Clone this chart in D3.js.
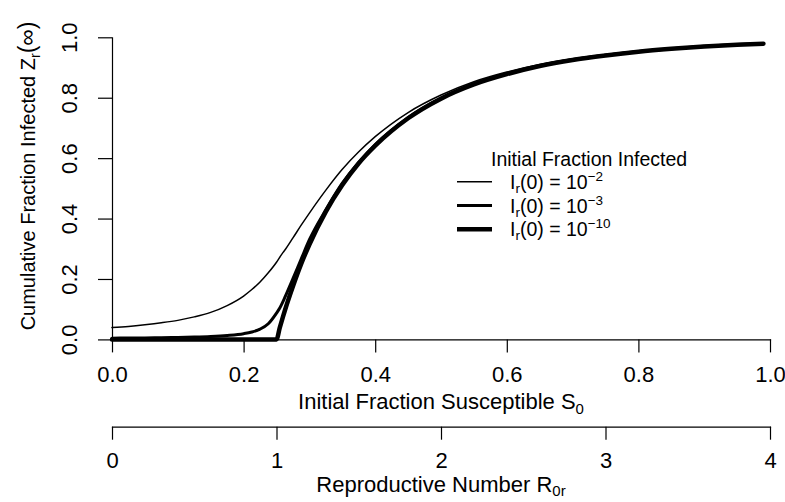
<!DOCTYPE html>
<html>
<head>
<meta charset="utf-8">
<script src="https://cdn.jsdelivr.net/npm/d3@7/dist/d3.min.js"></script>
<style>
  body { margin: 0; background: #fff; }
  svg { display: block; font-family: "Liberation Sans", Arial, Helvetica, sans-serif; }
  .axis path, .axis line { stroke: #000; stroke-width: 1.2; }
  .axis text { fill: #000; font-size: 22px; font-family: "Liberation Sans", Arial, sans-serif; }
</style>
</head>
<body>
<svg id="grafico" width="785" height="502"></svg>
<script>
// fracao inicial suscetivel S0
const suscetivel = [0, 0.025, 0.05, 0.075, 0.1, 0.125, 0.15, 0.175, 0.2, 0.2125, 0.225, 0.2375,
  0.25, 0.255, 0.26, 0.2625, 0.275, 0.2875, 0.3, 0.325, 0.35, 0.375, 0.4, 0.45,
  0.5, 0.55, 0.6, 0.65, 0.7, 0.75, 0.8, 0.85, 0.9, 0.95, 0.99];

// fracao acumulada infectada Z_r(inf), uma lista por I_r(0)
const infectado1e2 = [0.039, 0.043, 0.0485, 0.055, 0.063, 0.0745, 0.0895, 0.112, 0.1435, 0.165, 0.19, 0.2205,
  0.2555, 0.272, 0.288, 0.295, 0.336, 0.378, 0.418, 0.494, 0.563, 0.621, 0.671, 0.751,
  0.809, 0.853, 0.885, 0.91, 0.929, 0.943, 0.955, 0.964, 0.971, 0.9765, 0.9805];
const infectado1e3 = [0.004, 0.0045, 0.005, 0.0057, 0.0067, 0.008, 0.01, 0.0133, 0.019, 0.0245, 0.034, 0.0518,
  0.087, 0.104, 0.126, 0.138, 0.201, 0.266, 0.33, 0.429, 0.517, 0.586, 0.645, 0.734,
  0.7985, 0.845, 0.879, 0.906, 0.926, 0.941, 0.953, 0.962, 0.97, 0.976, 0.9795];
const infectado1e10 = [0, 0, 0, 0, 0, 0, 0, 0, 0, 0, 0, 0,
  0, 0.039, 0.076, 0.094, 0.176, 0.25, 0.314, 0.423, 0.511, 0.583, 0.641, 0.732,
  0.797, 0.844, 0.878, 0.905, 0.925, 0.94, 0.9525, 0.962, 0.9697, 0.9755, 0.979];

const ticksS = [0, 0.2, 0.4, 0.6, 0.8, 1.0];
const ticksZ = [0, 0.2, 0.4, 0.6, 0.8, 1.0];
const ticksR = [0, 1, 2, 3, 4];

const series = [
  { expoente: "\u22122", valores: infectado1e2, largura: 1.5 },
  { expoente: "\u22123", valores: infectado1e3, largura: 3 },
  { expoente: "\u221210", valores: infectado1e10, largura: 4.5 }
];

const svg = d3.select("#grafico");

const x = d3.scaleLinear().domain([0, 1]).range([112, 770]);
const y = d3.scaleLinear().domain([0, 1]).range([339.4, 37.3]);
const xR = d3.scaleLinear().domain([0, 4]).range([112, 770]);

// eixo S0
const eixoX = svg.append("g").attr("class", "axis")
  .attr("transform", `translate(0,${y(0)})`)
  .call(d3.axisBottom(x).tickValues(ticksS).tickFormat(d3.format(".1f")).tickSize(13).tickSizeOuter(0));
eixoX.selectAll("text").attr("y", 43).attr("dy", null);

// eixo Z
const eixoY = svg.append("g").attr("class", "axis")
  .attr("transform", `translate(${x(0)},0)`)
  .call(d3.axisLeft(y).tickValues(ticksZ).tickFormat(d3.format(".1f")).tickSize(14).tickSizeOuter(0));
eixoY.selectAll("text")
  .attr("x", null).attr("dy", null).attr("y", null)
  .attr("text-anchor", "middle")
  .attr("transform", "translate(-35,0) rotate(-90)");

// eixo R0r
const eixoR = svg.append("g").attr("class", "axis")
  .attr("transform", "translate(0,426.7)")
  .call(d3.axisBottom(xR).tickValues(ticksR).tickFormat(d3.format("d")).tickSize(13).tickSizeOuter(0));
eixoR.selectAll("text").attr("y", 41).attr("dy", null);

svg.selectAll(".axis .domain").attr("stroke-linecap", "square");

// titulos dos eixos
const tX = svg.append("text").attr("x", 441).attr("y", 409).attr("text-anchor", "middle").attr("font-size", 22);
tX.append("tspan").text("Initial Fraction Susceptible S");
tX.append("tspan").attr("dy", 5).attr("font-size", 15).text("0");

const tR = svg.append("text").attr("x", 441).attr("y", 492).attr("text-anchor", "middle").attr("font-size", 22);
tR.append("tspan").text("Reproductive Number R");
tR.append("tspan").attr("dy", 4).attr("font-size", 15).text("0r");

const tY = svg.append("text").attr("transform", "translate(35,176) rotate(-90)")
  .attr("text-anchor", "middle").attr("font-size", 20);
tY.append("tspan").text("Cumulative Fraction Infected Z");
tY.append("tspan").attr("dy", 5).attr("font-size", 14).text("r");
tY.append("tspan").attr("dy", -5).attr("font-size", 23).text("(\u221E)");

// curvas
const linha = d3.line().x((d, i) => x(suscetivel[i])).y(d => y(d)).curve(d3.curveMonotoneX);

svg.selectAll(".curva").data(series).enter().append("path")
  .attr("class", "curva")
  .attr("fill", "none")
  .attr("stroke", "#000")
  .attr("stroke-linecap", "round")
  .attr("stroke-linejoin", "round")
  .attr("stroke-width", d => d.largura)
  .attr("d", d => linha(d.valores));

// legenda
const legenda = svg.append("g").attr("font-size", 19.5);
legenda.append("text").attr("x", 491).attr("y", 166).text("Initial Fraction Infected");

const itens = legenda.selectAll(".item").data(series).enter().append("g")
  .attr("class", "item")
  .attr("transform", (d, i) => `translate(0,${181.7 + i * 23.8})`);
itens.append("line").attr("x1", 457).attr("x2", 492).attr("y1", 0).attr("y2", 0)
  .attr("stroke", "#000").attr("stroke-width", d => d.largura);
const rotulo = itens.append("text").attr("x", 510).attr("y", 7);
rotulo.append("tspan").text("I");
rotulo.append("tspan").attr("dy", 4).attr("font-size", 13.5).text("r");
rotulo.append("tspan").attr("dy", -4).text("(0) = 10");
rotulo.append("tspan").attr("dy", -8).attr("font-size", 13.5).text(d => d.expoente);
</script>
</body>
</html>
